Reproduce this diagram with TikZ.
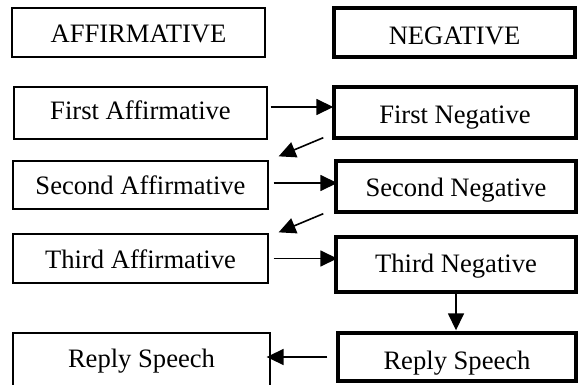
\documentclass[tikz,border=0pt]{standalone}
\usepackage{fontspec}
\setmainfont{Liberation Serif}
\usetikzlibrary{arrows.meta}
\begin{document}
\begin{tikzpicture}[x=1pt,y=-1pt,
  affbox/.style={draw=black,line width=1.3pt,inner sep=0pt,font=\fontsize{26.6}{30}\selectfont},
  negbox/.style={draw=black,line width=3.4pt,inner sep=0pt,font=\fontsize{26.6}{30}\selectfont},
  tpos/.style 2 args={text height=#1,text depth=#2},
  arr/.style={line width=1.6pt,-{Triangle[length=17pt,width=16pt]}}]
\useasboundingbox (0,0) rectangle (578,385);
\node[affbox,tpos={21pt}{0pt},minimum width=253pt,minimum height=49pt] (aff) at (138.5,32.5) {AFFIRMATIVE};
\node[negbox,tpos={24.2pt}{0pt},minimum width=241pt,minimum height=49pt] (neg) at (454.5,32.5) {NEGATIVE};
\node[affbox,tpos={17.6pt}{4pt},minimum width=253pt,minimum height=52pt] (fa) at (140.5,113) {First Affirmative};
\node[negbox,tpos={21.6pt}{0pt},minimum width=242pt,minimum height=51pt] (fn) at (455,112.5) {First Negative};
\node[affbox,tpos={19.2pt}{0pt},minimum width=255pt,minimum height=48pt] (sa) at (140.5,185) {Second Affirmative};
\node[negbox,tpos={20.6pt}{0pt},minimum width=240pt,minimum height=51pt] (sn) at (456,186.5) {Second Negative};
\node[affbox,tpos={19.6pt}{0pt},minimum width=255pt,minimum height=49pt] (ta) at (140.5,258.5) {Third Affirmative};
\node[negbox,tpos={17.6pt}{1pt},minimum width=240pt,minimum height=55pt] (tn) at (456,264.5) {Third Negative};
\node[affbox,tpos={17.6pt}{4.4pt},minimum width=257pt,minimum height=55pt] (ra) at (141.5,360.5) {Reply Speech};
\node[negbox,tpos={24.6pt}{0pt},minimum width=238pt,minimum height=48pt] (rn) at (457,357) {Reply Speech};
% connectors
\draw[arr,shorten >=2pt] ([xshift=3pt,yshift=6pt]fa.east) -- ([xshift=3pt,yshift=6pt]fa.east -| fn.west);
\draw[arr,shorten >=2pt] ([xshift=5pt,yshift=2pt]sa.east) -- ([xshift=5pt,yshift=2pt]sa.east -| sn.west);
\draw[arr,shorten >=2pt] ([xshift=5pt]ta.east) -- ([xshift=5pt]ta.east -| tn.west);
\draw[arr] ([xshift=-9pt,yshift=2pt]fn.south west) -- ([xshift=10pt,yshift=4pt]sa.north east);
\draw[arr] ([xshift=-11pt]sn.south west) -- ([xshift=10pt,yshift=1pt]ta.north east);
\draw[arr,shorten >=1pt] (tn.south) -- (tn.south |- rn.north);
\draw[arr,shorten >=5pt] ([xshift=-9pt]rn.west) -- ([xshift=-9pt]rn.west -| ra.east);
\end{tikzpicture}
\end{document}
